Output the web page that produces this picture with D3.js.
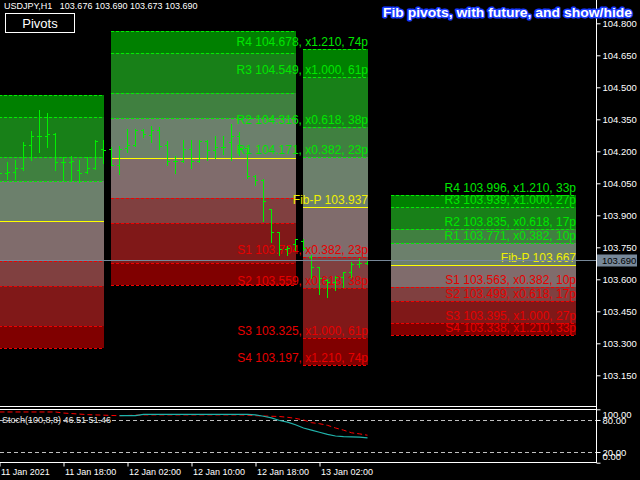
<!DOCTYPE html>
<html><head><meta charset="utf-8">
<script src="https://cdn.jsdelivr.net/npm/d3@7"></script>
<style>
html,body{margin:0;padding:0;background:#000;overflow:hidden}
svg{display:block}
text{font-family:"Liberation Sans",Arial,sans-serif}
</style></head><body>
<svg id="c" width="640" height="480"></svg>
<script>
// ---------- DATA ----------
const symbolText = "USDJPY,H1";
// hourly bars, bar 0 = 11 Jan 2021 10:00
const barOpen  = [104.103,104.097,104.102,104.120,104.230,104.272,104.272,104.280,104.148,104.148,104.112,104.103,104.123,104.209,104.209,104.136,104.214,104.230,104.298,104.276,104.298,104.230,104.153,104.153,104.209,104.153,104.250,104.205,104.219,104.242,104.270,104.214,104.086,104.066,103.928,103.823,103.741,103.764,103.780,103.706,103.656,103.597,103.589,103.611,103.634,103.672,103.676];
const barHigh  = [104.136,104.150,104.159,104.244,104.295,104.394,104.380,104.284,104.173,104.178,104.159,104.173,104.253,104.253,104.222,104.226,104.305,104.305,104.305,104.317,104.314,104.248,104.177,104.252,104.252,104.252,104.252,104.270,104.270,104.327,104.292,104.216,104.089,104.069,103.928,103.823,103.756,103.788,103.788,103.714,103.659,103.600,103.616,103.636,103.683,103.698,103.690];
const barLow   = [104.075,104.070,104.070,104.112,104.159,104.197,104.220,104.112,104.066,104.061,104.056,104.098,104.118,104.144,104.136,104.092,104.198,104.226,104.266,104.245,104.209,104.136,104.100,104.148,104.120,104.148,104.158,104.167,104.189,104.161,104.183,104.076,104.043,103.875,103.776,103.714,103.714,103.737,103.737,103.608,103.531,103.516,103.550,103.565,103.612,103.656,103.673];
const barClose = [104.097,104.102,104.120,104.230,104.272,104.272,104.280,104.148,104.148,104.153,104.100,104.122,104.247,104.205,104.136,104.211,104.230,104.298,104.280,104.298,104.226,104.153,104.153,104.209,104.153,104.250,104.205,104.219,104.219,104.270,104.216,104.083,104.066,103.968,103.823,103.741,103.745,103.788,103.747,103.656,103.606,103.587,103.611,103.634,103.672,103.678,103.690];

// stochastic (100,8,8): main and signal per bar (null = not visible)
const stochMain   = [null,null,null,null,null,null,null,null,null,null,null,null,null,null,null,88,88,88,90.6,90.6,90.6,90.6,90.6,90.6,90.6,90.6,90.6,90.6,90.6,90.6,90.6,90.6,89.5,87,84,79,76,71,65,61,57,53,50,49,48.5,48,46.51];
const stochSignal = [95,95,95,95,95,95,95,95,93,92,91,90,89.5,89,88.5,88,88.5,89,89.5,89.5,89.5,89.5,89.5,89.5,89.5,89.5,89.5,89.5,89.5,89.5,89.5,89,88,87.5,87,86.5,85,83,80,75,73,70,65,61,56,54,51.46];

// daily Fibonacci pivots: 11 Jan, 12 Jan, 13 Jan (today), 14 Jan (future)
const dayStartBar = [-10, 14, 38, 49];
const dayEndBar   = [13, 37, 46, 72];
const levelR4 = [104.465, 104.762, 104.678, 103.996];
const levelR3 = [104.362, 104.659, 104.549, 103.939];
const levelR2 = [104.175, 104.471, 104.316, 103.835];
const levelR1 = [104.059, 104.355, 104.171, 103.771];
const levelP  = [103.872, 104.167, 103.937, 103.667];
const levelS1 = [103.685, 103.979, 103.704, 103.563];
const levelS2 = [103.569, 103.863, 103.559, 103.499];
const levelS3 = [103.382, 103.675, 103.325, 103.395];
const levelS4 = [103.279, 103.572, 103.197, 103.338];
const dayLabelled = [false, false, true, true];
const pipsR4S4 = [0, 0, 74, 33];
const pipsR3S3 = [0, 0, 61, 27];
const pipsR2S2 = [0, 0, 38, 17];
const pipsR1S1 = [0, 0, 23, 10];
const levelNames = ["R4","R3","R2","R1","Fib-P","S1","S2","S3","S4"];
const levelRatios = ["1.210","1.000","0.618","0.382","","0.382","0.618","1.000","1.210"];
const zoneFill = ["#008000","#188018","#408040","#6c806c","#806c6c","#804040","#801818","#800000"];

const priceTicks = [104.800,104.650,104.500,104.350,104.200,104.050,103.900,103.750,103.600,103.450,103.300,103.150];
const stochTicks = [100, 80, 20, 0];
const stochLevels = [80, 20];
const timeTickBars = [0, 8, 16, 24, 32, 40];
const timeTickLabels = ["11 Jan 2021","11 Jan 18:00","12 Jan 02:00","12 Jan 10:00","12 Jan 18:00","13 Jan 02:00"];
const titleText = "Fib pivots, with future, and show/hide";
const stochLabel = "Stoch(100,8,8) 46.51 51.46";

// ---------- CHART ----------
const W = 640, H = 480, axisX = 596;
const svg = d3.select("#c");
svg.append("rect").attr("width", W).attr("height", H).attr("fill", "#000");

const x = d3.scaleLinear().domain([0, 72]).range([-1, 575]);
const y = d3.scaleLinear().domain([103.15, 104.8]).range([375.3, 23.3]);
const ys = d3.scaleLinear().domain([0, 100]).range([462.7, 409.3]);

const defs = svg.append("defs");
defs.append("clipPath").attr("id","clipMain").append("rect").attr("x",0).attr("y",0).attr("width",axisX).attr("height",406);
defs.append("clipPath").attr("id","clipSub").append("rect").attr("x",0).attr("y",410).attr("width",axisX).attr("height",52);

const main = svg.append("g").attr("clip-path","url(#clipMain)");

// zones and level lines
const days = d3.range(dayStartBar.length);
days.forEach(d => {
  const lv = [levelR4[d],levelR3[d],levelR2[d],levelR1[d],levelP[d],levelS1[d],levelS2[d],levelS3[d],levelS4[d]];
  const pips = [pipsR4S4[d],pipsR3S3[d],pipsR2S2[d],pipsR1S1[d],0,pipsR1S1[d],pipsR2S2[d],pipsR3S3[d],pipsR4S4[d]];
  const x0 = x(dayStartBar[d]), x1 = x(dayEndBar[d]) + 1;
  for (let j = 0; j < 8; j++) {
    const ya = Math.round(y(lv[j])), yb = Math.round(y(lv[j+1]));
    main.append("rect").attr("x", x0).attr("y", ya).attr("width", x1 - x0).attr("height", yb - ya)
      .attr("fill", zoneFill[j]);
  }
  lv.forEach((v, j) => {
    const yy = Math.round(y(v)) + 0.5;
    const isP = j === 4, isR = j < 4;
    main.append("line").attr("x1", x0).attr("x2", x1).attr("y1", yy).attr("y2", yy)
      .attr("stroke", isP ? "#ffff00" : (isR ? "#00ee00" : "#f00000"))
      .attr("stroke-width", 1)
      .attr("stroke-dasharray", isP ? null : "3,2");
  });
  if (dayLabelled[d]) {
    lv.forEach((v, j) => {
      const isP = j === 4, isR = j < 4;
      const txt = isP ? `${levelNames[j]} ${v.toFixed(3)}`
                      : `${levelNames[j]} ${v.toFixed(3)}, x${levelRatios[j]}, ${pips[j]}p`;
      main.append("text").attr("x", x1).attr("y", Math.round(y(v)) - 3)
        .attr("text-anchor", "end").attr("font-size", "12px")
        .attr("fill", isP ? "#f0f000" : (isR ? "#00e600" : "#e60000"))
        .text(txt);
    });
  }
});

// OHLC bars
const barIdx = d3.range(barOpen.length);
main.append("g").selectAll("path").data(barIdx).join("path")
  .attr("d", i => {
    const xi = Math.round(x(i)) + 0.5;
    const yH = Math.round(y(barHigh[i])), yL = Math.round(y(barLow[i])) + 1;
    const yO = Math.round(y(barOpen[i])) + 0.5, yC = Math.round(y(barClose[i])) + 0.5;
    return `M${xi},${yH}V${yL}M${xi-2.5},${yO}H${xi}M${xi},${yC}H${xi+2.5}`;
  })
  .attr("stroke", "#00f000").attr("stroke-width", 1).attr("fill", "none");

// current bid line
const last = barClose[barClose.length - 1];
const yBid = Math.round(y(last)) + 0.5;
main.append("line").attr("x1", 0).attr("x2", axisX).attr("y1", yBid).attr("y2", yBid)
  .attr("stroke", "#778899").attr("stroke-width", 1);

// frame lines
const frame = svg.append("g").attr("stroke", "#fff").attr("stroke-width", 1).attr("shape-rendering","crispEdges");
frame.append("line").attr("x1", axisX + 0.5).attr("x2", axisX + 0.5).attr("y1", 0).attr("y2", 463);
frame.append("line").attr("x1", 0).attr("x2", axisX + 1).attr("y1", 406.5).attr("y2", 406.5);
frame.append("line").attr("x1", 0).attr("x2", axisX + 1).attr("y1", 409.5).attr("y2", 409.5);
frame.append("line").attr("x1", 0).attr("x2", axisX + 1).attr("y1", 462.5).attr("y2", 462.5);

// price axis
const pAxis = svg.append("g").attr("transform", `translate(${axisX + 0.5},0)`)
  .call(d3.axisRight(y).tickValues(priceTicks).tickFormat(d3.format(".3f")).tickSize(4).tickPadding(2));
pAxis.select(".domain").remove();
pAxis.selectAll("line").attr("stroke", "#fff");
pAxis.selectAll("text").attr("fill", "#fff").attr("font-size", "9.5px").attr("font-family", "Liberation Sans, Arial, sans-serif");

// bid label
svg.append("rect").attr("x", 597).attr("y", yBid - 6).attr("width", 40).attr("height", 12).attr("fill", "#778899");
svg.append("text").attr("x", 602).attr("y", yBid + 3.5).attr("font-size", "9.5px").attr("fill", "#000").text(last.toFixed(3));

// stochastic sub-window
const sub = svg.append("g").attr("clip-path", "url(#clipSub)");
stochLevels.forEach(v => {
  sub.append("line").attr("x1", 0).attr("x2", axisX).attr("y1", Math.round(ys(v)) + 0.5).attr("y2", Math.round(ys(v)) + 0.5)
    .attr("stroke", "#c0c0c0").attr("stroke-dasharray", "4,3");
});
const lineMain = d3.line().defined(i => stochMain[i] !== null).x(i => x(i) + 0.5).y(i => ys(stochMain[i]));
const lineSig = d3.line().defined(i => stochSignal[i] !== null).x(i => x(i) + 0.5).y(i => ys(stochSignal[i]));
sub.append("path").attr("d", lineSig(barIdx)).attr("fill", "none").attr("stroke", "#ff0000").attr("stroke-dasharray", "5,3");
sub.append("path").attr("d", lineMain(barIdx)).attr("fill", "none").attr("stroke", "#20b2aa").attr("stroke-width", 1.2);
svg.append("text").attr("x", 2).attr("y", 423).attr("font-size", "9px").attr("fill", "#e8e8e8").text(stochLabel);

const sAxis = svg.append("g").attr("transform", `translate(${axisX + 0.5},0)`)
  .call(d3.axisRight(ys).tickValues(stochTicks).tickFormat(d3.format(".2f")).tickSize(4).tickPadding(2));
sAxis.select(".domain").remove();
sAxis.selectAll("line").attr("stroke", "#fff");
sAxis.selectAll("text").attr("fill", "#fff").attr("font-size", "9.5px").attr("font-family", "Liberation Sans, Arial, sans-serif");
sAxis.selectAll(".tick").filter(d => d === 100).select("text").attr("dy", "0.9em");
sAxis.selectAll(".tick").filter(d => d === 0).select("text").attr("dy", "-0.35em");

// time axis
const tAxis = svg.append("g").attr("transform", "translate(0.5,462.5)")
  .call(d3.axisBottom(x).tickValues(timeTickBars).tickFormat((d, i) => timeTickLabels[i]).tickSize(4).tickPadding(2));
tAxis.select(".domain").remove();
tAxis.selectAll("line").attr("stroke", "#fff");
tAxis.selectAll("text").attr("fill", "#fff").attr("font-size", "9px").attr("text-anchor", "start").attr("x", 1)
  .attr("font-family", "Liberation Sans, Arial, sans-serif");

// header
svg.append("text").attr("x", 4).attr("y", 8.5).attr("font-size", "9px").attr("fill", "#fff")
  .style("white-space", "pre")
  .text(`${symbolText}   ${barOpen[46].toFixed(3)} ${barHigh[46].toFixed(3)} ${barLow[46].toFixed(3)} ${barClose[46].toFixed(3)}`);

// Pivots button
svg.append("rect").attr("x", 5.5).attr("y", 13.5).attr("width", 69).attr("height", 19)
  .attr("fill", "#000").attr("stroke", "#fff").attr("stroke-width", 1);
svg.append("text").attr("x", 40).attr("y", 27.5).attr("text-anchor", "middle").attr("font-size", "13px")
  .attr("fill", "#fff").text("Pivots");

// title
svg.append("text").attr("x", 383).attr("y", 16.5).attr("font-size", "13px").attr("font-weight", "bold")
  .attr("textLength", 249).attr("lengthAdjust", "spacingAndGlyphs")
  .attr("fill", "#fff").attr("stroke", "#1a3cff").attr("stroke-width", 3).attr("stroke-linejoin", "round")
  .style("paint-order", "stroke")
  .text(titleText);
</script>
</body></html>
